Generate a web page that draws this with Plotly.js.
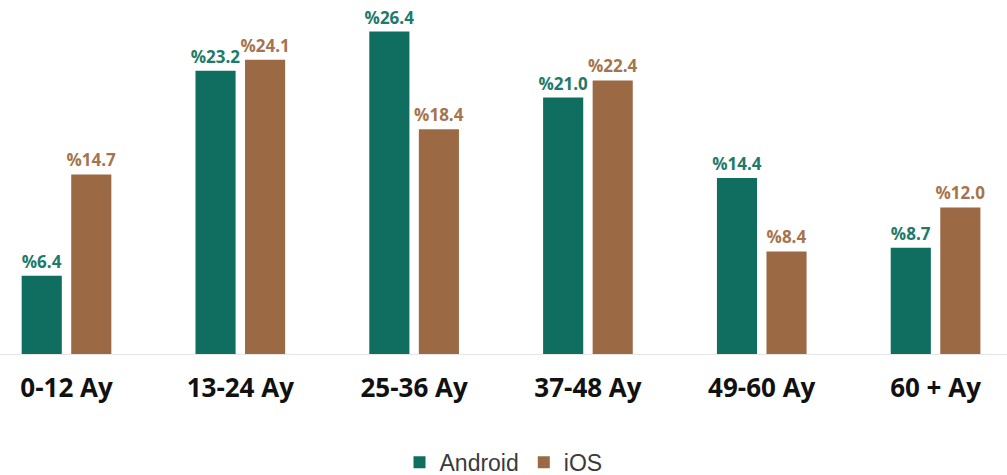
<!DOCTYPE html>
<html>
<head>
<meta charset="utf-8">
<script src="https://cdn.plot.ly/plotly-3.0.1.min.js"></script>
<style>
  body { margin: 0; background: #fff; }
  #chart { width: 1007px; height: 475px; }
</style>
</head>
<body>
<div id="chart"></div>
<script>
// age groups and share of users per platform
var ageGroups = ["0-12 Ay", "13-24 Ay", "25-36 Ay", "37-48 Ay", "49-60 Ay", "60 + Ay"];
var androidShare = [6.4, 23.2, 26.4, 21.0, 14.4, 8.7];
var iosShare = [14.7, 24.1, 18.4, 22.4, 8.4, 12.0];

var teal = "#0f6e5f";
var brown = "#9b6a45";

function pctLabels(vals) {
  return vals.map(v => "%" + v.toFixed(1));
}

var trace1 = {
  x: ageGroups,
  y: androidShare,
  name: "Android",
  type: "bar",
  marker: { color: teal },
  text: pctLabels(androidShare),
  textposition: "outside",
  constraintext: "none",
  textfont: { family: "Open Sans", size: 17, weight: "bold", color: "#217a69" },
  cliponaxis: false,
  hoverinfo: "none"
};
var trace2 = {
  x: ageGroups,
  y: iosShare,
  name: "iOS",
  type: "bar",
  marker: { color: brown },
  text: pctLabels(iosShare),
  textposition: "outside",
  constraintext: "none",
  textfont: { family: "Open Sans", size: 17, weight: "bold", color: "#a5744d" },
  cliponaxis: false,
  hoverinfo: "none"
};

var data = [trace1, trace2];
var layout = {
  width: 1007,
  height: 475,
  margin: { l: 0, r: 0, t: 12, b: 121, autoexpand: false },
  paper_bgcolor: "#fff",
  plot_bgcolor: "#fff",
  barmode: "group",
  bargap: 0.43,
  bargroupgap: 0.19,
  showlegend: true,
  legend: {
    orientation: "h",
    x: 0.5, xanchor: "center",
    yref: "container",
    y: 0.027, yanchor: "middle",
    font: { family: "Liberation Sans", size: 23, color: "#3a3a3a" },
    itemwidth: 30,
    traceorder: "normal"
  },
  xaxis: {
    range: [-0.3826, 5.411],
    automargin: false,
    showgrid: false,
    zeroline: false,
    showline: true,
    linecolor: "#e6e6e6",
    linewidth: 1,
    ticks: "",
    ticklabelstandoff: 11,
    tickfont: { family: "Open Sans", size: 26, weight: "bold", color: "#111" }
  },
  yaxis: {
    range: [0, 28],
    automargin: false,
    showgrid: false,
    zeroline: false,
    showticklabels: false,
    ticks: ""
  }
};

Plotly.newPlot("chart", data, layout, { displayModeBar: false, staticPlot: true });
</script>
</body>
</html>
